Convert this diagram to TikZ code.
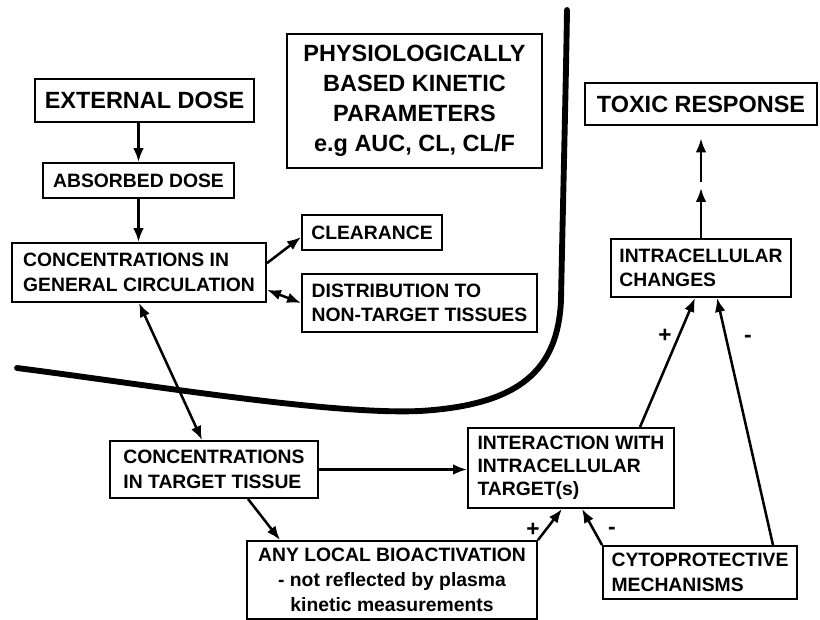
\documentclass[tikz,border=0pt]{standalone}
\usepackage{fontspec}
\setmainfont{Liberation Sans}
\usetikzlibrary{arrows.meta}
\tikzset{
	box/.style={draw, line width=1.4pt, inner sep=0pt, align=left, font=\bfseries\fontsize{14.5}{18.5}\selectfont},
	bigbox/.style={box, line width=2pt, align=center, font=\bfseries\fontsize{17.6}{22.5}\selectfont},
	arr/.style={line width=1.9pt, -{Latex[length=10.5pt,width=8pt]}},
	dblarr/.style={line width=1.9pt, {Latex[length=10.5pt,width=8pt]}-{Latex[length=10.5pt,width=8pt]}},
	sign/.style={inner sep=0pt, font=\bfseries\fontsize{17}{17}\selectfont}
}

\begin{document}
\begin{tikzpicture}[x=0.75pt, y=-0.75pt]
		%%%%% START %%%%%
		\useasboundingbox (0, 0) rectangle (820, 620);
		
		% left column
		\node[bigbox, minimum width=164.25pt, minimum height=32.25pt] (ext) at (144.5, 100.5) {EXTERNAL DOSE};
		\node[box, align=center, minimum width=143.25pt, minimum height=26.25pt] (absorbed) at (138.5, 180.5) {ABSORBED DOSE};
		\node[box, minimum width=190.5pt, minimum height=44.25pt] (general) at (139, 272.5) {CONCENTRATIONS IN\\GENERAL CIRCULATION};
		
		\node[bigbox, minimum width=191.25pt, minimum height=100.5pt] (pbk) at (414.5, 101) {PHYSIOLOGICALLY\\BASED KINETIC\\PARAMETERS\\e.g AUC, CL, CL/F};
		\node[box, align=center, minimum width=105pt, minimum height=26.25pt] (clearance) at (372, 232.5) {CLEARANCE};
		\node[box, minimum width=176.25pt, minimum height=43.5pt] (distrib) at (419.5, 303) {DISTRIBUTION TO\\NON-TARGET TISSUES};
		
		% right column
		\node[bigbox, minimum width=174pt, minimum height=31.5pt] (toxic) at (701, 104) {TOXIC RESPONSE};
		\node[box, minimum width=135pt, minimum height=43.5pt] (changes) at (701, 268) {INTRACELLULAR\\CHANGES};
		
		% bottom row
		\node[box, minimum width=156pt, minimum height=42.75pt] (target) at (214, 469.5) {CONCENTRATIONS\\IN TARGET TISSUE};
		\node[box, align=center, minimum width=217.5pt, minimum height=58.5pt] (bioact) at (392, 580) {ANY LOCAL BIOACTIVATION\\- not reflected by plasma\\kinetic measurements};
		\node[box, font=\bfseries\fontsize{14.5}{17.25}\selectfont, minimum width=154.5pt, minimum height=60pt] (interact) at (571, 468) {INTERACTION WITH\\INTRACELLULAR\\TARGET(s)};
		\node[box, minimum width=145.5pt, minimum height=39.75pt] (cyto) at (700, 572.5) {CYTOPROTECTIVE\\MECHANISMS};
		
		% signs
		\node[sign] (plusA) at (533, 530) {+};
		\node[sign] (minusA) at (612, 531) {-};
		\node[sign] (plusB) at (665, 336) {+};
		\node[sign] (minusB) at (748, 339) {-};
		
		\coordinate (midA) at (701, 188);
		\coordinate (midB) at (701, 182);
		
		% divider
		\draw[line width=4.4pt, line cap=round] (17, 368) .. controls (150, 385) and (330, 415) .. (420, 411)
			.. controls (520, 405) and (558, 370) .. (561, 300)
			.. controls (563, 200) and (566, 80) .. (567, 10);
		
		% arrows
		\draw[arr] (ext.south -| absorbed.north) -- (absorbed.north);
		\draw[arr] (absorbed.south) -- (absorbed.south |- general.north);
		\draw[arr] ([yshift=7pt]general.east) -- ([yshift=-3.4pt]clearance.west);
		\draw[dblarr] ([yshift=-13pt]general.east) -- (distrib.west);
		\draw[dblarr] (general.south) -- ([xshift=-9pt]target.north);
		\draw[arr] (target.east) -- (target.east -| interact.west);
		\draw[arr] ([xshift=25.5pt]target.south) -- ([xshift=-84pt]bioact.north);
		\draw[arr] (bioact.north east) -- ([xshift=-6.75pt]interact.south);
		\draw[arr] (cyto.north west) -- ([xshift=8.25pt]interact.south);
		\draw[arr] ([xshift=51.75pt]interact.north) -- ([xshift=-4.5pt]changes.south);
		\draw[arr] ([xshift=54.75pt]cyto.north) -- ([xshift=12pt]changes.south);
		\draw[arr] (changes.north) -- (midA);
		\draw[arr, shorten >=9pt] (midB) -- (toxic.south);
		
		%%%%% END %%%%%
	\end{tikzpicture}
\end{document}
